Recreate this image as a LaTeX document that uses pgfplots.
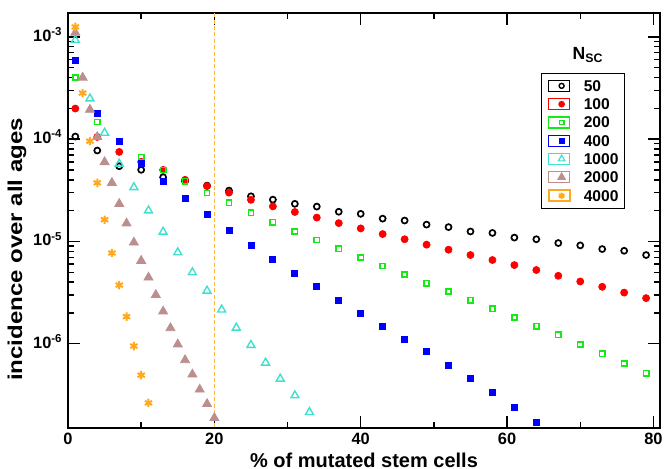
\documentclass[border=0pt]{standalone}
\usepackage{graphicx}
\usepackage{pgfplots}
\pgfplotsset{compat=1.18}
\usepackage{fontspec}
\setmainfont{Liberation Sans}
\definecolor{cturq}{RGB}{64,224,208}
\definecolor{cbrown}{RGB}{188,143,143}
\definecolor{corange}{RGB}{255,170,30}
\definecolor{cgreen}{RGB}{20,235,20}

\begin{document}
\begin{tikzpicture}
\begin{axis}[
    scale only axis,
    width=296pt, height=207.5pt,
    xmin=0, xmax=80.9,
    ymode=log,
    ymin=1.5e-7, ymax=1.71e-3,
    axis line style={line width=1.3pt},
    tick style={line width=0.7pt, black},
    tick align=inside,
    major tick length=6pt,
    minor tick length=3pt,
    xtick={0,20,40,60,80},
    minor xtick={10,30,50,70},
    ytick={1e-6,1e-5,1e-4,1e-3},
    yticklabels={10\textsuperscript{-6},10\textsuperscript{-5},10\textsuperscript{-4},10\textsuperscript{-3}},
    /pgf/number format/assume math mode=true,
    tick label style={font=\bfseries\fontsize{8.2}{9.5}\selectfont, inner sep=0pt},
    xticklabel style={anchor=base, yshift=-8.2pt},
    yticklabel style={anchor=base east, xshift=-2.5pt, yshift=-2.25pt},
    label style={font=\bfseries\fontsize{10}{12}\selectfont, inner sep=0pt},
    xlabel={\% of mutated stem cells},
    ylabel={\scalebox{1.2}[1]{incidence over all ages}},
    xlabel style={at={([yshift=-19.6pt]rel axis cs:0.5,0)}, anchor=base},
    ylabel style={at={([xshift=-23pt]rel axis cs:0,0.43)}, anchor=base},
    legend style={
        at={(rel axis cs:0.9409,0.8562)}, anchor=north east,
        font=\bfseries\fontsize{7.8}{9}\selectfont,
        draw=black, line width=0.5pt,
        inner xsep=3pt, inner ysep=3.2pt,
        nodes={inner sep=0pt, text depth=0pt},
        row sep=2.95pt, column sep=6.6pt,
        cells={anchor=west},
    },
    legend image code/.code={\path (-6.5pt,-2.8pt) rectangle (4pt,2.8pt); \draw[#1] plot coordinates {(0pt,0pt)};},
]
% orange dashed marker at 20%
\addplot[forget plot, corange!85, line width=0.55pt, dash pattern=on 2pt off 1.2pt] coordinates {(20,1e-8) (20,1e-2)};

% N=50
\addplot[only marks, mark=o, mark size=1.5pt, black, line width=0.85pt, legend image post style={mark size=1.25pt, line width=0.7pt}] coordinates {
(1,1.06e-4) (4,7.74e-5) (7,5.43e-5) (10,5.01e-5) (13,4.24e-5) (16,3.87e-5) (19,3.51e-5)
(22,3.14e-5) (25,2.76e-5) (28,2.56e-5) (31,2.33e-5) (34,2.19e-5) (37,1.95e-5) (40,1.86e-5)
(43,1.67e-5) (46,1.60e-5) (49,1.46e-5) (52,1.38e-5) (55,1.25e-5) (58,1.21e-5) (61,1.09e-5)
(64,1.05e-5) (67,9.64e-6) (70,9.14e-6) (73,8.42e-6) (76,8.10e-6) (79,7.36e-6)
};
\addlegendentry{50}
% N=100
\addplot[only marks, mark=*, mark size=1.75pt, red, mark options={draw=red, fill=red}, legend image post style={mark size=1.4pt}] coordinates {
(1,1.99e-4) (4,1.05e-4) (7,7.5e-5) (10,6.0e-5) (13,5.0e-5) (16,4.0e-5) (19,3.47e-5)
(22,3.0e-5) (25,2.55e-5) (28,2.2e-5) (31,1.94e-5) (34,1.71e-5) (37,1.51e-5) (40,1.34e-5)
(43,1.18e-5) (46,1.05e-5) (49,9.3e-6) (52,8.3e-6) (55,7.36e-6) (58,6.58e-6) (61,5.87e-6)
(64,5.25e-6) (67,4.61e-6) (70,4.06e-6) (73,3.6e-6) (76,3.16e-6) (79,2.79e-6)
};
\addlegendentry{100}
% N=200
\addplot[only marks, mark=square, mark size=1.3pt, cgreen, line width=0.8pt, legend image post style={mark size=1.1pt, line width=0.7pt}] coordinates {
(1,4.0e-4) (4,1.47e-4) (7,9.6e-5) (10,6.67e-5) (13,5.0e-5) (16,3.87e-5) (19,2.98e-5)
(22,2.38e-5) (25,1.90e-5) (28,1.54e-5) (31,1.25e-5) (34,1.03e-5) (37,8.48e-6) (40,6.97e-6)
(43,5.74e-6) (46,4.75e-6) (49,3.91e-6) (52,3.24e-6) (55,2.66e-6) (58,2.19e-6) (61,1.80e-6)
(64,1.48e-6) (67,1.22e-6) (70,9.86e-7) (73,7.98e-7) (76,6.43e-7) (79,5.16e-7)
};
\addlegendentry{200}
% N=400
\addplot[only marks, mark=square*, mark size=1.5pt, blue, mark options={draw=blue, fill=blue}, legend image post style={mark size=1.25pt}] coordinates {
(1,5.82e-4) (4,1.77e-4) (7,9.55e-5) (10,5.82e-5) (13,3.85e-5) (16,2.61e-5) (19,1.82e-5)
(22,1.29e-5) (25,9.2e-6) (28,6.67e-6) (31,4.9e-6) (34,3.6e-6) (37,2.66e-6) (40,1.97e-6)
(43,1.49e-6) (46,1.1e-6) (49,8.5e-7) (52,6.14e-7) (55,4.54e-7) (58,3.31e-7) (61,2.36e-7)
(64,1.72e-7)
};
\addlegendentry{400}
% N=1000
\addplot[only marks, mark=triangle, mark size=2.3pt, cturq, line width=0.7pt, legend image post style={mark size=1.9pt, line width=0.6pt}] coordinates {
(1,9.28e-4) (3,2.49e-4) (5,1.15e-4) (7,5.74e-5) (9,3.38e-5) (11,2.0e-5) (13,1.24e-5)
(15,7.8e-6) (17,4.97e-6) (19,3.29e-6) (21,2.15e-6) (23,1.43e-6) (25,9.7e-7) (27,6.51e-7)
(29,4.54e-7) (31,3.12e-7) (33,2.14e-7)
};
\addlegendentry{1000}
% N=2000
\addplot[only marks, mark=triangle*, mark size=2.6pt, cbrown, mark options={draw=cbrown, fill=cbrown}, legend image post style={mark size=2.1pt}] coordinates {
(1,1.1e-3) (2,4.0e-4) (3,1.94e-4) (4,1.05e-4) (5,5.97e-5) (6,3.74e-5) (7,2.33e-5)
(8,1.5e-5) (9,9.77e-6) (10,6.47e-6) (11,4.44e-6) (12,3.0e-6) (13,2.07e-6) (14,1.42e-6)
(15,9.86e-7) (16,6.92e-7) (17,5.01e-7) (18,3.57e-7) (19,2.58e-7) (20,1.88e-7)
};
\addlegendentry{2000}
% N=4000
\addplot[only marks, mark=asterisk, mark size=2.1pt, corange, line width=1pt, legend image post style={mark size=1.6pt}] coordinates {
(1,1.25e-3) (2,2.82e-4) (3,9.55e-5) (4,3.74e-5) (5,1.63e-5) (6,7.7e-6) (7,3.74e-6)
(8,1.84e-6) (9,9.48e-7) (10,4.93e-7) (11,2.64e-7)
};
\addlegendentry{4000}

\node[font=\bfseries\fontsize{8.8}{10}\selectfont] at (rel axis cs:0.8784,0.8988) {N\textsubscript{SC}};
\end{axis}
\pgfresetboundingbox
\useasboundingbox (-34pt,-20.5pt) rectangle (298.5pt,214pt);
\end{tikzpicture}
\end{document}
